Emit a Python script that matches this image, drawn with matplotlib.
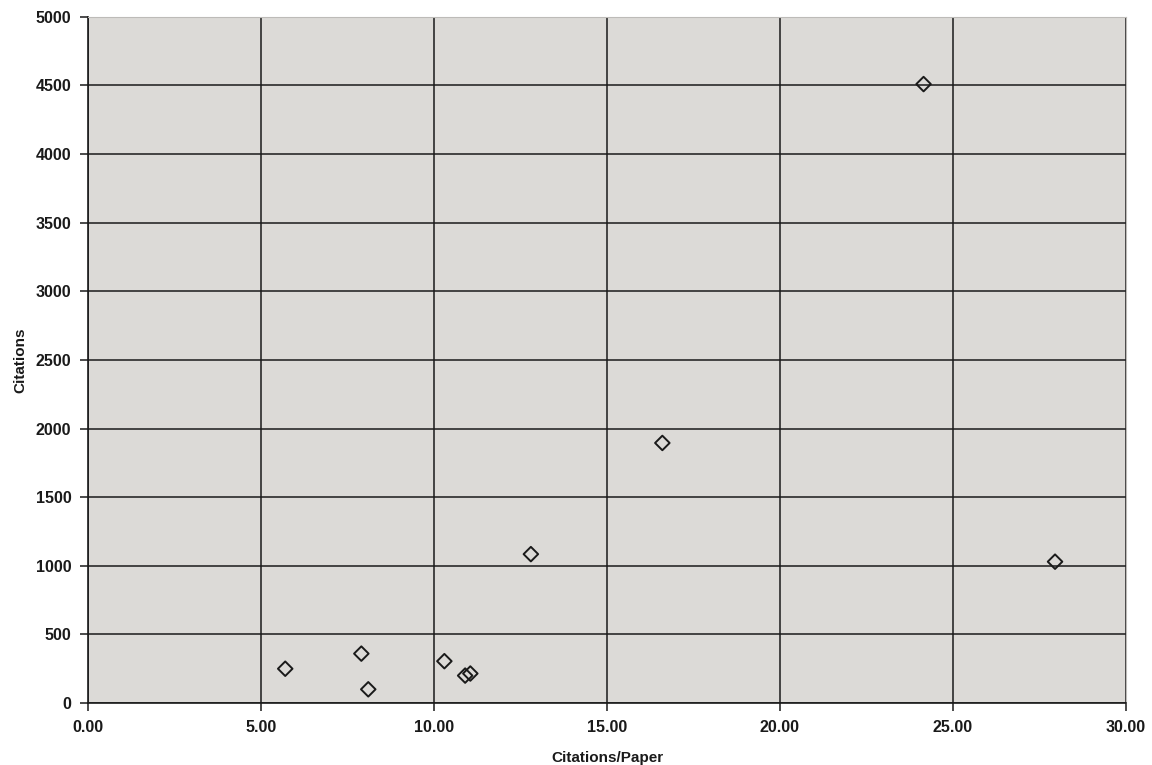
import matplotlib
matplotlib.use("Agg")
import matplotlib.pyplot as plt
from matplotlib.ticker import FormatStrFormatter

# Citations per paper vs total citations
citations_per_paper = [5.7, 7.9, 8.1, 10.3, 10.9, 11.05, 12.8, 16.6, 24.15, 27.95]
citations = [250, 360, 100, 305, 200, 215, 1085, 1895, 4510, 1030]

x_ticks = [0, 5, 10, 15, 20, 25, 30]
y_ticks = [0, 500, 1000, 1500, 2000, 2500, 3000, 3500, 4000, 4500, 5000]

plt.rcParams['font.family'] = ['Liberation Sans', 'DejaVu Sans']

fig = plt.figure(figsize=(11.52, 7.65), dpi=100)
ax = fig.add_axes([0.0764, 0.081, 0.901, 0.897])
ax.set_facecolor('#dcdad7')

ax.scatter(citations_per_paper, citations, marker='D', s=55,
           facecolors='none', edgecolors='#1a1a1a', linewidths=1.4, zorder=3)

ax.set_xlim(0, 30)
ax.set_ylim(0, 5000)
ax.set_xticks(x_ticks)
ax.set_yticks(y_ticks)
ax.xaxis.set_major_formatter(FormatStrFormatter('%.2f'))
ax.grid(True, color='#1a1a1a', linewidth=1.1)
ax.set_axisbelow(True)

for side in ('top', 'right'):
    ax.spines[side].set_color('#bdbbb8')
    ax.spines[side].set_linewidth(0.8)
for side in ('left', 'bottom'):
    ax.spines[side].set_color('#1a1a1a')
    ax.spines[side].set_linewidth(1.2)

ax.tick_params(direction='out', length=6, width=1.1, color='#1a1a1a',
               labelsize=11.5, pad=6)
for lbl in ax.get_xticklabels() + ax.get_yticklabels():
    lbl.set_fontweight('bold')
    lbl.set_color('#1a1a1a')

ax.set_xlabel('Citations/Paper', fontsize=11, fontweight='bold',
              color='#1a1a1a', labelpad=12)
ax.set_ylabel('Citations', fontsize=11, fontweight='bold',
              color='#1a1a1a', labelpad=6)

fig.savefig('out.png', dpi=100, facecolor='white')
